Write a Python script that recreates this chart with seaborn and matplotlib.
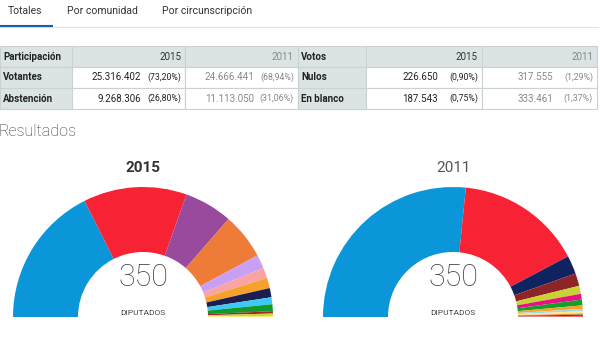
import matplotlib
matplotlib.use("Agg")
import matplotlib.pyplot as plt
import seaborn as sns
from matplotlib.patches import Rectangle

sns.set_theme(style="white")
plt.rcParams['font.family'] = ['Roboto', 'DejaVu Sans']

# tabs
tabs = ['Totales', 'Por comunidad', 'Por circunscripción']
tab_x = [8, 67, 162]

# participation table
part_rows = ['Votantes', 'Abstención']
part_2015 = ['25.316.402', '9.268.306']
part_2015_pct = ['(73,20%)', '(26,80%)']
part_2011 = ['24.666.441', '11.113.050']
part_2011_pct = ['(68,94%)', '(31,06%)']

# votes table
votos_rows = ['Nulos', 'En blanco']
votos_2015 = ['226.650', '187.543']
votos_2015_pct = ['(0,90%)', '(0,75%)']
votos_2011 = ['317.555', '333.461']
votos_2011_pct = ['(1,29%)', '(1,37%)']

# seats
parties_2015 = ['PP', 'PSOE', 'Podemos', "C's", 'En Comú', 'Compromís-Podemos',
                'ERC', 'DL', 'Podemos-En Marea', 'EAJ-PNV', 'IU-UP', 'EH Bildu', 'CC']
seats_2015 = [123, 90, 42, 40, 12, 9, 9, 8, 6, 6, 2, 2, 1]
colors_2015 = ['#0a96d8', '#f72335', '#9a4a9d', '#ee7b37', '#c99ff4', '#f9a3a3',
               '#f6a22a', '#1b1e4e', '#3ccaf4', '#109a2b', '#a3262c', '#c9d43c', '#f4ef6a']

parties_2011 = ['PP', 'PSOE', 'CiU', 'IU-LV', 'Amaiur', 'UPyD', 'EAJ-PNV', 'ERC',
                'BNG', 'CC-NC-PNC', 'Compromís-Q', 'FAC', 'GBAI']
seats_2011 = [186, 110, 16, 11, 7, 5, 5, 3, 2, 2, 1, 1, 1]
colors_2011 = ['#0a96d8', '#f72335', '#0f2360', '#8e2426', '#c8d233', '#ea0f86',
               '#12a02b', '#f5a524', '#a8d4f0', '#faea82', '#f08a3a', '#2b3d8a', '#f07070']

fig = plt.figure(figsize=(6, 3.6), dpi=100)
ax = fig.add_axes([0, 0, 1, 1])
ax.set_xlim(0, 600)
ax.set_ylim(360, 0)
ax.axis('off')

# tabs
for t, x in zip(tabs, tab_x):
    ax.text(x, 11, t, fontsize=7.5, color='#333333', va='center', ha='left')
ax.plot([0, 598], [26.5, 26.5], color='#e2e2e2', lw=0.8)
ax.plot([0, 53], [25.5, 25.5], color='#1c5bb0', lw=1.5, solid_capstyle='butt')

row_y = [46, 67, 88, 109]
head_bg = '#dbe3e5'
line_c = '#c9d1d3'


def draw_table(cols, header, rows, v15, p15, v11, p11):
    # cell backgrounds
    for r in range(3):
        for c in range(3):
            fc = head_bg if (r == 0 or c == 0) else 'white'
            ax.add_patch(Rectangle((cols[c], row_y[r]), cols[c + 1] - cols[c],
                                   row_y[r + 1] - row_y[r], facecolor=fc,
                                   edgecolor=line_c, lw=0.8))
    ym = [(row_y[i] + row_y[i + 1]) / 2 for i in range(3)]
    ax.text(cols[0] + 3, ym[0], header, fontsize=7, fontweight='bold',
            color='#222222', va='center')
    ax.text(cols[2] - 4, ym[0], '2015', fontsize=7, color='#333333', ha='right', va='center')
    ax.text(cols[3] - 4, ym[0], '2011', fontsize=7, color='#888888', ha='right', va='center')
    for i in range(2):
        y = ym[i + 1]
        ax.text(cols[0] + 3, y, rows[i], fontsize=7, fontweight='bold',
                color='#222222', va='center')
        ax.text(cols[2] - 44, y, v15[i], fontsize=7, color='#222222', ha='right', va='center')
        ax.text(cols[2] - 4, y, p15[i], fontsize=6.3, color='#222222', ha='right', va='center')
        ax.text(cols[3] - 44, y, v11[i], fontsize=7, color='#888888', ha='right', va='center')
        ax.text(cols[3] - 4, y, p11[i], fontsize=6.3, color='#888888', ha='right', va='center')


draw_table([0, 72, 185, 298], 'Participación', part_rows,
           part_2015, part_2015_pct, part_2011, part_2011_pct)
draw_table([298, 366, 482, 597], 'Votos', votos_rows,
           votos_2015, votos_2015_pct, votos_2011, votos_2011_pct)

ax.text(-1, 131, 'Resultados', fontsize=11.5, fontweight='light', color='#333333',
        va='center', ha='left')


def hemicycle(cx, seats, colors, title, bold, tcolor):
    cy, r = 317, 130
    hax = fig.add_axes([(cx - r) / 600, (360 - cy - r) / 360, 2 * r / 600, 2 * r / 360])
    vals = seats + [sum(seats)]
    cols = colors + ['none']
    hax.pie(vals, colors=cols, startangle=180, counterclock=False, radius=1,
            wedgeprops=dict(width=0.5, linewidth=0))
    hax.set_xlim(-1, 1)
    hax.set_ylim(-1, 1)
    hax.set_aspect('equal')
    hax.axis('off')
    ax.text(cx, 168, title, fontsize=11, fontweight='bold' if bold else 'normal',
            color=tcolor, ha='center', va='center')
    ax.text(cx, 278, str(sum(seats)), fontsize=22, fontweight='light',
            color='#444444', ha='center', va='center')
    ax.text(cx, 313, 'DIPUTADOS', fontsize=6, color='#444444', ha='center', va='center')


hemicycle(143, seats_2015, colors_2015, '2015', True, '#333333')
hemicycle(453, seats_2011, colors_2011, '2011', False, '#555555')

fig.savefig('out.png', dpi=100)
